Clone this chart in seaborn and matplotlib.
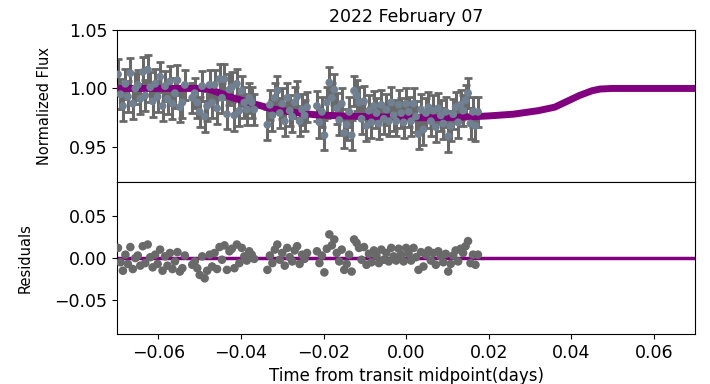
import numpy as np
import pandas as pd
from matplotlib import pyplot as plt
import seaborn as sns

# observation times (days from mid-transit), four chunks with gaps
time_c1 = [-0.0698, -0.0692, -0.0686, -0.0680, -0.0674, -0.0668, -0.0662, -0.0656, -0.0650, -0.0644,
           -0.0638, -0.0632, -0.0626, -0.0620, -0.0614, -0.0608, -0.0602, -0.0596, -0.0590, -0.0584,
           -0.0578, -0.0572, -0.0566, -0.0560, -0.0554, -0.0548, -0.0542, -0.0536]
time_c2 = [-0.0518, -0.0512, -0.0506, -0.0500, -0.0494, -0.0488, -0.0482, -0.0476, -0.0470, -0.0464,
           -0.0458, -0.0452, -0.0446, -0.0440, -0.0434, -0.0428, -0.0422, -0.0416, -0.0410, -0.0404,
           -0.0398, -0.0392, -0.0386, -0.0380, -0.0374, -0.0368]
time_c3 = [-0.0336, -0.0330, -0.0324, -0.0318, -0.0312, -0.0306, -0.0300, -0.0294, -0.0288, -0.0282,
           -0.0276, -0.0270, -0.0264, -0.0258, -0.0252, -0.0246, -0.0240]
time_c4 = [-0.0216, -0.0210, -0.0204, -0.0198, -0.0192, -0.0186, -0.0180, -0.0174, -0.0168, -0.0162,
           -0.0156, -0.0150, -0.0144, -0.0138, -0.0132, -0.0126, -0.0120, -0.0114, -0.0108, -0.0102,
           -0.0096, -0.0090, -0.0084, -0.0078, -0.0072, -0.0066, -0.0060, -0.0054, -0.0048, -0.0042,
           -0.0036, -0.0030, -0.0024, -0.0018, -0.0012, -0.0006, 0.0000, 0.0006, 0.0012, 0.0018,
           0.0024, 0.0030, 0.0036, 0.0042, 0.0048, 0.0054, 0.0060, 0.0066, 0.0072, 0.0078,
           0.0084, 0.0090, 0.0096, 0.0102, 0.0108, 0.0114, 0.0120, 0.0126, 0.0132, 0.0138,
           0.0144, 0.0150, 0.0156, 0.0162, 0.0168, 0.0174]

flux_c1 = [1.012, 0.995, 0.985, 1.004, 0.993, 1.013, 0.987, 1.000, 1.003, 0.991,
           1.014, 0.994, 1.016, 1.001, 0.989, 1.004, 0.993, 1.010, 0.985, 1.002,
           0.991, 1.006, 0.987, 0.996, 1.007, 0.984, 0.988, 1.003]
flux_c2 = [0.992, 0.996, 0.988, 0.980, 1.002, 0.976, 0.985, 1.003, 0.988, 1.003,
           0.983, 1.008, 0.992, 1.008, 0.978, 0.999, 1.001, 0.977, 1.004, 0.981,
           0.998, 0.988, 0.982, 0.992, 0.988, 0.982]
flux_c3 = [0.969, 0.986, 0.977, 0.992, 0.998, 0.979, 0.987, 0.972, 0.992, 0.981,
           0.976, 0.988, 0.993, 0.972, 0.982, 0.977, 0.984]
flux_c4 = [0.985, 0.971, 0.980, 0.960, 0.988, 1.005, 0.992, 0.999, 0.983, 0.973,
           0.987, 0.962, 0.969, 0.980, 0.960, 0.998, 0.994, 0.988, 0.974, 0.989,
           0.968, 0.981, 0.971, 0.985, 0.979, 0.970, 0.986, 0.974, 0.982, 0.972,
           0.988, 0.977, 0.972, 0.986, 0.979, 0.971, 0.987, 0.980, 0.972, 0.987,
           0.976, 0.961, 0.982, 0.965, 0.979, 0.984, 0.972, 0.981, 0.967, 0.983,
           0.977, 0.970, 0.980, 0.959, 0.968, 0.978, 0.984, 0.971, 0.986, 0.981,
           0.990, 0.996, 0.970, 0.980, 0.968, 0.980]

resid_c1 = [0.012, -0.005, -0.015, 0.004, -0.007, 0.013, -0.013, 0.000, 0.003, -0.009,
            0.014, -0.006, 0.016, 0.001, -0.011, 0.004, -0.007, 0.010, -0.015, 0.002,
            -0.009, 0.006, -0.013, -0.004, 0.007, -0.016, -0.012, 0.003]
resid_c2 = [-0.008, -0.004, -0.012, -0.020, 0.002, -0.024, -0.015, 0.004, -0.010, 0.006,
            -0.013, 0.013, -0.002, 0.015, -0.014, 0.008, 0.011, -0.012, 0.016, -0.006,
            0.012, 0.002, -0.003, 0.008, 0.004, -0.001]
resid_c3 = [-0.014, 0.003, -0.006, 0.010, 0.016, -0.002, 0.006, -0.009, 0.012, 0.001,
            -0.004, 0.009, 0.014, -0.007, 0.004, -0.001, 0.006]
resid_c4 = [0.008, -0.006, 0.003, -0.017, 0.011, 0.028, 0.015, 0.022, 0.006, -0.004,
            0.010, -0.014, -0.007, 0.004, -0.016, 0.022, 0.018, 0.012, -0.002, 0.013,
            -0.008, 0.005, -0.005, 0.009, 0.003, -0.006, 0.010, -0.002, 0.006, -0.004,
            0.012, 0.002, -0.003, 0.011, 0.004, -0.004, 0.012, 0.005, -0.003, 0.012,
            0.001, -0.014, 0.007, -0.010, 0.004, 0.009, -0.003, 0.006, -0.008, 0.008,
            0.002, -0.005, 0.005, -0.016, -0.007, 0.003, 0.009, -0.004, 0.011, 0.006,
            0.014, 0.020, -0.006, 0.004, -0.008, 0.004]

flux_err = 0.013

# transit model curve
model_time = [-0.070, -0.060, -0.050, -0.048, -0.045, -0.042, -0.039, -0.036, -0.033, -0.030,
              -0.026, -0.022, -0.016, -0.010, -0.004, 0.002, 0.008, 0.014, 0.020, 0.026,
              0.032, 0.036, 0.039, 0.042, 0.045, 0.047, 0.050, 0.060, 0.070]
model_flux = [1.000, 1.000, 1.000, 0.9995, 0.996, 0.992, 0.989, 0.986, 0.983, 0.981,
              0.979, 0.9775, 0.9765, 0.976, 0.9755, 0.975, 0.975, 0.9755, 0.9765, 0.978,
              0.981, 0.984, 0.989, 0.994, 0.998, 0.9995, 1.000, 1.000, 1.000]

obs = pd.DataFrame({
    "time": time_c1 + time_c2 + time_c3 + time_c4,
    "flux": flux_c1 + flux_c2 + flux_c3 + flux_c4,
    "resid": resid_c1 + resid_c2 + resid_c3 + resid_c4,
})
model = pd.DataFrame({"time": model_time, "flux": model_flux})

sns.set_style("ticks")
plt.rcParams['font.family'] = ['DejaVu Sans']
plt.rcParams['text.color'] = 'black'
plt.rcParams['axes.labelcolor'] = 'black'
plt.rcParams['xtick.color'] = 'black'
plt.rcParams['ytick.color'] = 'black'

fig, (ax1, ax2) = plt.subplots(2, 1, figsize=(7.1, 3.84), dpi=100, sharex=True)
fig.subplots_adjust(left=0.165, right=0.979, top=0.922, bottom=0.13, hspace=0)

ax1.errorbar(obs["time"], obs["flux"], yerr=flux_err, fmt="none", ecolor="dimgray",
             elinewidth=2.2, capsize=3, capthick=2, zorder=2)
sns.lineplot(data=model, x="time", y="flux", ax=ax1, color="purple", lw=5, zorder=3)
sns.scatterplot(data=obs, x="time", y="flux", ax=ax1, color="slategray", s=32,
                edgecolor="none", zorder=4)
ax1.set_ylim(0.92, 1.05)
ax1.set_yticks([0.95, 1.00, 1.05])
ax1.set_ylabel("Normalized Flux", fontsize=10.5, labelpad=12)
ax1.set_xlabel("")
ax1.set_title("2022 February 07", fontsize=12.5)
ax1.tick_params(axis="x", bottom=False, labelbottom=False)

sns.scatterplot(data=obs, x="time", y="resid", ax=ax2, color="dimgray", s=38,
                edgecolor="none", zorder=3)
ax2.axhline(0, color="purple", lw=2.5, zorder=2)
ax2.set_ylim(-0.09, 0.09)
ax2.set_yticks([-0.05, 0.00, 0.05])
ax2.set_ylabel("Residuals", fontsize=10.5, labelpad=16)
ax2.set_xlim(-0.07, 0.07)
ax2.set_xticks([-0.06, -0.04, -0.02, 0.00, 0.02, 0.04, 0.06])
ax2.set_xlabel("Time from transit midpoint(days)", fontsize=12)

for ax in (ax1, ax2):
    ax.tick_params(labelsize=12.5)
    for sp in ax.spines.values():
        sp.set_visible(True)
        sp.set_color("black")

fig.savefig("out.png", dpi=100)
